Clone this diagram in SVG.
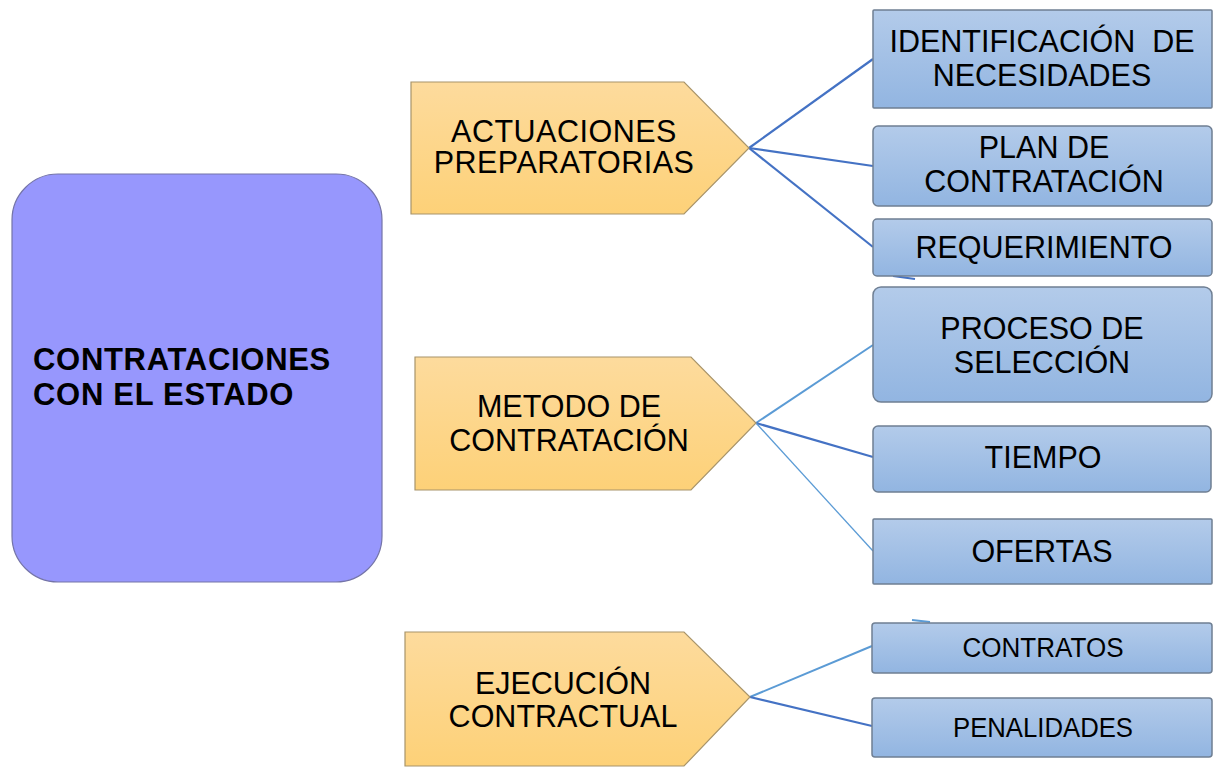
<svg xmlns="http://www.w3.org/2000/svg" width="1215" height="767" viewBox="0 0 1215 767">
<defs>
<linearGradient id="gBlue" x1="0" y1="0" x2="0" y2="1">
<stop offset="0" stop-color="#B3CBEA"/>
<stop offset="1" stop-color="#92B5E1"/>
</linearGradient>
<linearGradient id="gGold" x1="0" y1="0" x2="0" y2="1">
<stop offset="0" stop-color="#FDDB9D"/>
<stop offset="1" stop-color="#FDD178"/>
</linearGradient>
<style>
.blue{fill:url(#gBlue);stroke:#6F7F93;stroke-width:1.5}
.gold{fill:url(#gGold);stroke:#A8946A;stroke-width:1.2}
.t{font-family:"Liberation Sans",Arial,sans-serif;font-size:30.5px;fill:#000;text-anchor:middle}
.ts{font-family:"Liberation Sans",Arial,sans-serif;font-size:27px;fill:#000;text-anchor:middle}
.dk{stroke:#4472C4;stroke-width:2.2;fill:none}
.lt{stroke:#5B9BD5;stroke-width:2;fill:none}
.thin{stroke:#5B9BD5;stroke-width:1.3;fill:none}
</style>
</defs>
<rect width="1215" height="767" fill="#FFFFFF"/>

<g id="connectors">
<line class="dk" x1="749" y1="148" x2="873" y2="59"/>
<line class="dk" x1="749" y1="148" x2="873" y2="166"/>
<line class="dk" x1="749" y1="148" x2="873" y2="247"/>
<line class="lt" x1="756" y1="423" x2="873" y2="345"/>
<line class="dk" x1="756" y1="423" x2="873" y2="457"/>
<line class="thin" x1="756" y1="423" x2="873" y2="551"/>
<line class="lt" x1="750" y1="697" x2="872" y2="646"/>
<line class="dk" x1="750" y1="697" x2="872" y2="726"/>
<line class="dk" x1="893" y1="276" x2="915" y2="279"/>
<line class="lt" x1="912" y1="620" x2="930" y2="622"/>
</g>

<g id="n-main">
<rect x="12" y="174" width="370" height="408" rx="46" fill="#9797FD" stroke="#7474A8" stroke-width="1.2"/>
<text x="33" y="370" font-family="Liberation Sans,Arial,sans-serif" font-size="31" font-weight="bold" letter-spacing="0.7">CONTRATACIONES</text>
<text x="33" y="405" font-family="Liberation Sans,Arial,sans-serif" font-size="31" font-weight="bold" letter-spacing="0.7">CON EL ESTADO</text>
</g>

<g id="n-actuaciones">
<polygon class="gold" points="411,82 684,82 749,148 684,214 411,214"/>
<text class="t" x="564" y="142" letter-spacing="0.5">ACTUACIONES</text>
<text class="t" x="564" y="173" letter-spacing="0.5">PREPARATORIAS</text>
</g>

<g id="n-metodo">
<polygon class="gold" points="415,357 691,357 756,423 691,490 415,490"/>
<text class="t" x="569" y="417">METODO DE</text>
<text class="t" x="569" y="451">CONTRATACIÓN</text>
</g>

<g id="n-ejecucion">
<polygon class="gold" points="405,632 684,632 750,697 684,766 405,766"/>
<text class="t" x="563" y="694">EJECUCIÓN</text>
<text class="t" x="563" y="727">CONTRACTUAL</text>
</g>

<g id="n-identificacion">
<rect class="blue" x="873" y="10" width="339" height="98" rx="1"/>
<text class="t" x="1042" y="52" xml:space="preserve">IDENTIFICACIÓN  DE</text>
<text class="t" x="1042" y="86">NECESIDADES</text>
</g>

<g id="n-plan">
<rect class="blue" x="873" y="126" width="339" height="80" rx="5"/>
<text class="t" x="1044" y="158">PLAN DE</text>
<text class="t" x="1044" y="192">CONTRATACIÓN</text>
</g>

<g id="n-requerimiento">
<rect class="blue" x="873" y="219" width="339" height="57" rx="4"/>
<text class="t" x="1044" y="258">REQUERIMIENTO</text>
</g>

<g id="n-proceso">
<rect class="blue" x="873" y="287" width="339" height="115" rx="8"/>
<text class="t" x="1042" y="339">PROCESO DE</text>
<text class="t" x="1042" y="373">SELECCIÓN</text>
</g>

<g id="n-tiempo">
<rect class="blue" x="873" y="426" width="338" height="66" rx="5"/>
<text class="t" x="1043" y="468">TIEMPO</text>
</g>

<g id="n-ofertas">
<rect class="blue" x="873" y="519" width="339" height="65" rx="1"/>
<text class="t" x="1042" y="562">OFERTAS</text>
</g>

<g id="n-contratos">
<rect class="blue" x="872" y="623" width="340" height="50" rx="3"/>
<text class="ts" x="1043" y="657" textLength="161" lengthAdjust="spacingAndGlyphs">CONTRATOS</text>
</g>

<g id="n-penalidades">
<rect class="blue" x="872" y="698" width="340" height="59" rx="3"/>
<text class="ts" x="1043" y="737" textLength="180" lengthAdjust="spacingAndGlyphs">PENALIDADES</text>
</g>
</svg>
